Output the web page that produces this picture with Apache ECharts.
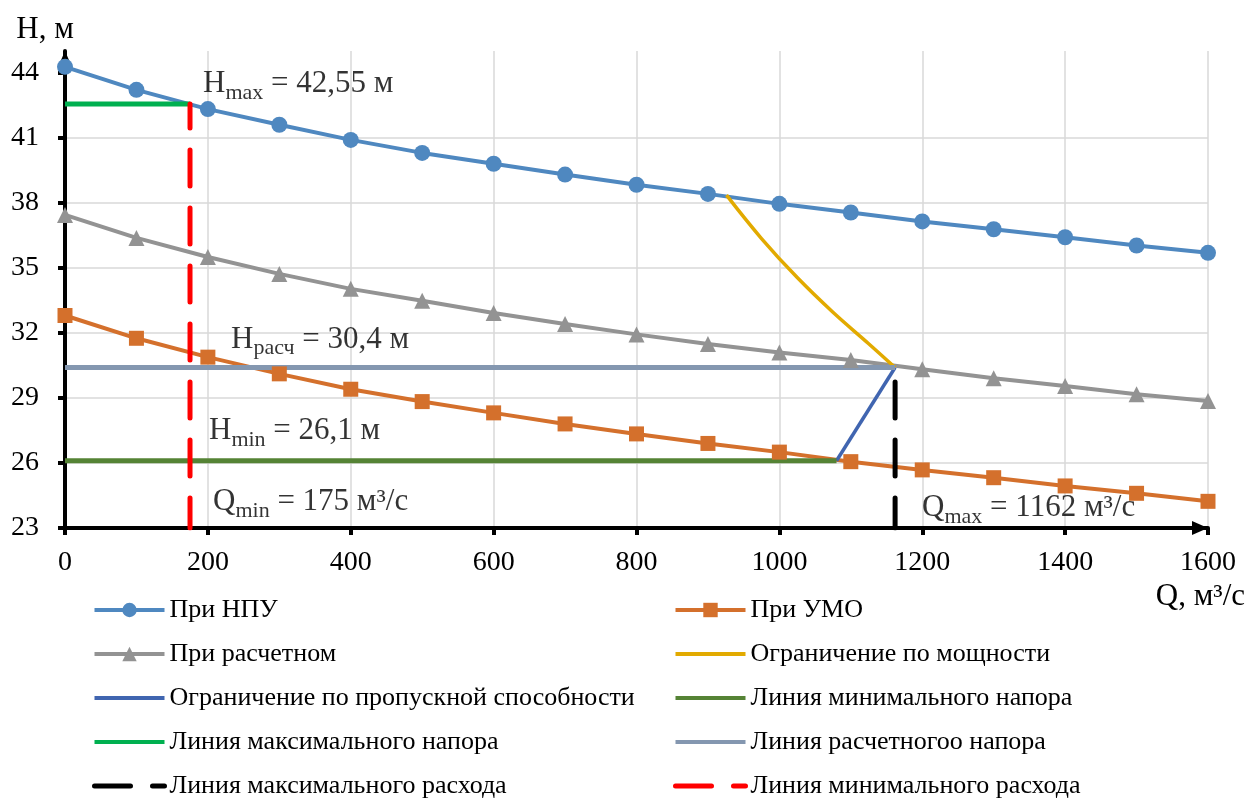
<!DOCTYPE html>
<html>
<head>
<meta charset="utf-8">
<script src="https://cdn.jsdelivr.net/npm/echarts@6/dist/echarts.min.js"></script>
<style>
  html, body { margin: 0; padding: 0; background: #ffffff; }
  #chart { width: 1250px; height: 798px; }
</style>
</head>
<body>
<div id="chart"></div>
<script>
// Расход через ГЭС, м³/с
const Q = [0, 100, 200, 300, 400, 500, 600, 700, 800, 900, 1000, 1100, 1200, 1300, 1400, 1500, 1600];

// Напор при НПУ, м
const H_NPU = [44.27, 43.21, 42.32, 41.6, 40.9, 40.3, 39.8, 39.3, 38.83, 38.41, 37.95, 37.55, 37.14, 36.78, 36.41, 36.03, 35.69];
// Напор при УМО, м
const H_UMO = [32.8, 31.75, 30.88, 30.11, 29.4, 28.83, 28.31, 27.8, 27.34, 26.9, 26.5, 26.06, 25.68, 25.32, 24.94, 24.6, 24.23];
// Напор при расчетном уровне, м
const H_CALC_CURVE = [37.44, 36.38, 35.5, 34.72, 34.03, 33.48, 32.92, 32.41, 31.93, 31.49, 31.09, 30.75, 30.32, 29.91, 29.55, 29.17, 28.86];

// Ограничение по мощности: расход и напор
const POWER_Q = [926, 975, 1025, 1075, 1125, 1162];
const POWER_H = [38.35, 36.35, 34.55, 32.95, 31.5, 30.4];

// Характерные напоры и расходы
const H_MAX = 42.55;
const H_CALC = 30.4;
const H_MIN = 26.1;
const Q_MIN = 175;
const Q_MAX = 1162;
// Расход, при котором ограничение по пропускной способности выходит на H_min
const Q_AT_HMIN = 1080;

// Оси
const Q_RANGE = [0, 1600];
const Q_STEP = 200;
const H_RANGE = [23, 45];
const H_STEP = 3;
const H_TICKS = [23, 26, 29, 32, 35, 38, 41, 44];

const FONT = '"Liberation Serif", "Times New Roman", serif';
const C = {
  npu: '#4F88C0',
  umo: '#D4702C',
  calc: '#939393',
  power: '#E2AA00',
  capacity: '#4065B0',
  hmin: '#558335',
  hmax: '#00B050',
  hcalc: '#8497B0',
  qmax: '#000000',
  qmin: '#FF0000'
};

const fmt = v => String(v).replace('.', ',');
const H_BOTTOM = H_RANGE[0];

const pairs = (xs, ys) => xs.map((x, i) => [x, ys[i]]);

const thickLine = color => ({ color: color, width: 5 });
const dashed = color => ({ color: color, width: 5, type: [36, 22], cap: 'round', dashOffset: 6 });

const series = [
  {
    name: 'При НПУ', type: 'line', data: pairs(Q, H_NPU),
    symbol: 'circle', symbolSize: 16,
    lineStyle: { color: C.npu, width: 4 }, itemStyle: { color: C.npu }
  },
  {
    name: 'При УМО', type: 'line', data: pairs(Q, H_UMO),
    symbol: 'rect', symbolSize: 15,
    lineStyle: { color: C.umo, width: 4 }, itemStyle: { color: C.umo }
  },
  {
    name: 'При расчетном', type: 'line', data: pairs(Q, H_CALC_CURVE),
    symbol: 'triangle', symbolSize: 16,
    lineStyle: { color: C.calc, width: 4 }, itemStyle: { color: C.calc }
  },
  {
    name: 'Ограничение по мощности', type: 'line', data: pairs(POWER_Q, POWER_H),
    symbol: 'none', smooth: 0.4,
    lineStyle: { color: C.power, width: 3.5 }, itemStyle: { color: C.power }
  },
  {
    name: 'Ограничение по пропускной способности', type: 'line',
    data: [[Q_AT_HMIN, H_MIN], [Q_MAX, H_CALC]],
    symbol: 'none',
    lineStyle: { color: C.capacity, width: 3.5 }, itemStyle: { color: C.capacity }
  },
  {
    name: 'Линия минимального напора', type: 'line',
    data: [[0, H_MIN], [Q_AT_HMIN, H_MIN]],
    symbol: 'none',
    lineStyle: thickLine(C.hmin), itemStyle: { color: C.hmin }
  },
  {
    name: 'Линия максимального напора', type: 'line',
    data: [[0, H_MAX], [Q_MIN, H_MAX]],
    symbol: 'none',
    lineStyle: thickLine(C.hmax), itemStyle: { color: C.hmax }
  },
  {
    name: 'Линия расчетногоо напора', type: 'line',
    data: [[0, H_CALC], [Q_MAX, H_CALC]],
    symbol: 'none',
    lineStyle: thickLine(C.hcalc), itemStyle: { color: C.hcalc }
  },
  {
    name: 'Линия максимального расхода', type: 'line',
    data: [[Q_MAX, H_BOTTOM], [Q_MAX, H_CALC]],
    symbol: 'none',
    lineStyle: dashed(C.qmax), itemStyle: { color: C.qmax }
  },
  {
    name: 'Линия минимального расхода', type: 'line',
    data: [[Q_MIN, H_BOTTOM], [Q_MIN, H_MAX]],
    symbol: 'none',
    lineStyle: dashed(C.qmin), itemStyle: { color: C.qmin }
  }
];

// Подписи характерных значений (текст строится из тех же констант)
const richText = {
  b: { fontFamily: FONT, fontSize: 31, lineHeight: 36, color: '#000' },
  s: { fontFamily: FONT, fontSize: 22, lineHeight: 22, padding: [18, 0, 0, 0], color: '#000' }
};
const notes = [
  { at: [Q_MIN, H_MAX], text: '{b|H}{s|max}{b| = ' + fmt(H_MAX) + ' м}', offset: [13, -20] },
  { at: [0, H_CALC], text: '{b|H}{s|расч}{b| = ' + fmt(H_CALC) + ' м}', offset: [166, -28] },
  { at: [0, H_MIN], text: '{b|H}{s|min}{b| = ' + fmt(H_MIN) + ' м}', offset: [144, -30] },
  { at: [Q_MIN, H_BOTTOM], text: '{b|Q}{s|min}{b| = ' + Q_MIN + ' м³/с}', offset: [23, -26] },
  { at: [Q_MAX, H_BOTTOM], text: '{b|Q}{s|max}{b| = ' + Q_MAX + ' м³/с}', offset: [27, -20] }
];
series.push({
  type: 'scatter', silent: true, symbolSize: 0, z: 20,
  data: notes.map(n => ({
    value: n.at,
    label: {
      show: true, position: 'right', distance: 0, offset: n.offset,
      align: 'left', verticalAlign: 'middle',
      formatter: n.text, rich: richText
    }
  }))
});

// Элементы легенды без маркеров показываются только линией
const lineOnly = { itemStyle: { opacity: 0 } };
const dashOnly = { itemStyle: { opacity: 0 }, lineStyle: { dashOffset: 0, width: 5 } };
const item = (name, extra) => Object.assign({ name: name }, extra || {});

const LEFT_LEGEND = [
  item('При НПУ'),
  item('При расчетном'),
  item('Ограничение по пропускной способности', lineOnly),
  item('Линия максимального напора', lineOnly),
  item('Линия максимального расхода', dashOnly)
];
const RIGHT_LEGEND = [
  item('При УМО'),
  item('Ограничение по мощности', lineOnly),
  item('Линия минимального напора', lineOnly),
  item('Линия расчетногоо напора', lineOnly),
  item('Линия минимального расхода', dashOnly)
];

const legendBase = {
  orient: 'vertical', top: 597, height: 260, padding: 0,
  itemWidth: 70, itemHeight: 18, itemGap: 18,
  selectedMode: false,
  lineStyle: { width: 4 },
  textStyle: { fontFamily: FONT, fontSize: 26, color: '#000' }
};

const axisLineStyle = { color: '#000', width: 4 };
const gridLine = { color: '#D9D9D9', width: 1.5 };

const option = {
  animation: false,
  backgroundColor: '#ffffff',
  grid: { left: 65, right: 42, top: 51, bottom: 270, containLabel: false },
  legend: [
    Object.assign({}, legendBase, { left: 92, data: LEFT_LEGEND }),
    Object.assign({}, legendBase, { left: 673, data: RIGHT_LEGEND })
  ],
  xAxis: {
    type: 'value', min: Q_RANGE[0], max: Q_RANGE[1], interval: Q_STEP,
    name: 'Q, м³/с', nameLocation: 'end', nameGap: 37,
    nameTextStyle: { fontFamily: FONT, fontSize: 31, color: '#000', align: 'right', verticalAlign: 'top', padding: [53, 0, 0, 0] },
    axisLine: {
      show: true, onZero: false, lineStyle: axisLineStyle,
      symbol: ['none', 'triangle'], symbolSize: [14, 16], symbolOffset: [0, -8]
    },
    axisTick: { show: true, inside: false, length: 7, lineStyle: axisLineStyle },
    axisLabel: { fontFamily: FONT, fontSize: 28, color: '#000', margin: 21, formatter: v => String(v) },
    splitLine: { show: true, showMinLine: false, lineStyle: gridLine }
  },
  yAxis: {
    type: 'value', min: H_RANGE[0], max: H_RANGE[1], interval: H_STEP,
    name: 'H, м', nameLocation: 'end', nameGap: 6,
    nameTextStyle: { fontFamily: FONT, fontSize: 31, color: '#000', align: 'center', padding: [0, 40, 0, 0] },
    axisLine: {
      show: true, onZero: false, lineStyle: axisLineStyle,
      symbol: ['none', 'triangle'], symbolSize: [14, 16], symbolOffset: [0, -8]
    },
    axisTick: { show: true, inside: false, length: 7, lineStyle: axisLineStyle, customValues: H_TICKS },
    axisLabel: { fontFamily: FONT, fontSize: 28, color: '#000', margin: 26, customValues: H_TICKS, formatter: v => String(v) },
    splitLine: { show: true, showMinLine: false, showMaxLine: false, lineStyle: gridLine }
  },
  series: series
};

const chart = echarts.init(document.getElementById('chart'), null, { renderer: 'canvas' });
chart.setOption(option);
</script>
</body>
</html>
